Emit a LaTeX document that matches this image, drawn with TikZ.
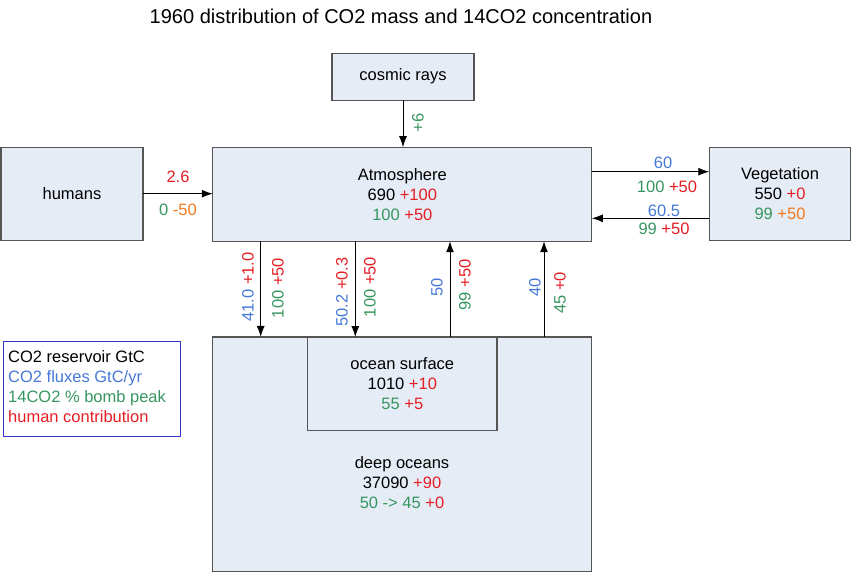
\documentclass[tikz,border=0pt]{standalone}
\usepackage{fontspec}
\setmainfont{Liberation Sans}
\usetikzlibrary{arrows.meta,calc}
\definecolor{cblue}{RGB}{70,120,215}
\definecolor{cgreen}{RGB}{55,150,95}
\definecolor{cred}{RGB}{228,30,35}
\definecolor{corange}{RGB}{240,120,30}
\definecolor{boxfill}{RGB}{230,236,246}
\definecolor{boxline}{RGB}{85,85,85}
\definecolor{legblue}{RGB}{50,50,200}
\begin{document}
\begin{tikzpicture}[x=1pt,y=-1pt,
  box/.style={draw=boxline,fill=boxfill,line width=1.3pt,rectangle,inner sep=0pt,outer sep=0pt,align=center},
  txt/.style={font=\fontsize{16.5}{20}\selectfont,align=center},
  arr/.style={-{Latex[length=11pt,width=8pt]},line width=1pt,black},
  lbl/.style={font=\fontsize{16.5}{20}\selectfont,inner sep=0pt}]
\useasboundingbox (0,0) rectangle (852,573);
% title
\node[font=\fontsize{20}{24}\selectfont,inner sep=0pt] (title) at (401,16) {1960 distribution of CO2 mass and 14CO2 concentration};
% boxes
\node[box,txt,minimum width=142pt,minimum height=47pt] (cos) at (403,76.7) {cosmic rays};
\node[box,txt,minimum width=142pt,minimum height=93pt] (hum) at (72,193.7) {humans};
\node[box,txt,minimum width=379pt,minimum height=94pt] (atm) at (402.3,194.2) {Atmosphere\\690 \textcolor{cred}{+100}\\\textcolor{cgreen}{100} \textcolor{cred}{+50}};
\node[box,txt,minimum width=141.5pt,minimum height=93.5pt] (veg) at (780,194) {Vegetation\\550 \textcolor{cred}{+0}\\\textcolor{cgreen}{99} \textcolor{corange}{+50}};
\node[box,minimum width=379pt,minimum height=234.7pt] (deep) at (402.3,454.3) {};
\node[box,txt,minimum width=189.3pt,minimum height=93.7pt] (surf) at (402.3,383.9) {ocean surface\\1010 \textcolor{cred}{+10}\\\textcolor{cgreen}{55} \textcolor{cred}{+5}};
\node[txt,inner sep=0pt] (deept) at (402,483) {deep oceans\\37090 \textcolor{cred}{+90}\\\textcolor{cgreen}{50 -> 45} \textcolor{cred}{+0}};
% legend
\node[draw=legblue,line width=1pt,minimum width=177pt,minimum height=95pt,inner sep=0pt,outer sep=0pt] (leg) at (91.5,388.7) {};
\node[txt,align=left,anchor=west,inner sep=0pt] (legt) at (8,387) {CO2 reservoir GtC\\\textcolor{cblue}{CO2 fluxes GtC/yr}\\\textcolor{cgreen}{14CO2 \% bomb peak}\\\textcolor{cred}{human contribution}};
% coordinates
\coordinate (y1) at (0,171.7);
\coordinate (y2) at (0,218.3);
\coordinate (v1) at (260.7,0);
\coordinate (v2) at (355.3,0);
\coordinate (v3) at (450,0);
\coordinate (v4) at (544,0);
% arrows
\draw[arr] (cos.south) -- (cos.south |- atm.north);
\draw[arr] (hum.east) -- (hum.east -| atm.west);
\draw[arr] (atm.east |- y1) -- (veg.west |- y1);
\draw[arr] (veg.west |- y2) -- (atm.east |- y2);
\draw[arr] (atm.south -| v1) -- (deep.north -| v1);
\draw[arr] (atm.south -| v2) -- (surf.north -| v2);
\draw[arr] (surf.north -| v3) -- (atm.south -| v3);
\draw[arr] (deep.north -| v4) -- (atm.south -| v4);
% labels
\node[lbl,text=cred] (l1) at (178,177) {2.6};
\node[lbl] (l2) at (178,210) {\textcolor{cgreen}{0} \textcolor{corange}{-50}};
\node[lbl,text=cblue] (l3) at (663,162.5) {60};
\node[lbl] (l4) at (667,187) {\textcolor{cgreen}{100} \textcolor{cred}{+50}};
\node[lbl,text=cblue] (l5) at (664,210.5) {60.5};
\node[lbl] (l6) at (664,228.5) {\textcolor{cgreen}{99} \textcolor{cred}{+50}};
\node[lbl,rotate=90,text=cgreen] (l7) at (418,123) {+6};
\node[lbl,rotate=90] (l8) at (248,287) {\textcolor{cblue}{41.0} \textcolor{cred}{+1.0}};
\node[lbl,rotate=90] (l9) at (278,288) {\textcolor{cgreen}{100} \textcolor{cred}{+50}};
\node[lbl,rotate=90] (l10) at (342,292) {\textcolor{cblue}{50.2} \textcolor{cred}{+0.3}};
\node[lbl,rotate=90] (l11) at (370,287) {\textcolor{cgreen}{100} \textcolor{cred}{+50}};
\node[lbl,rotate=90,text=cblue] (l12) at (437,287) {50};
\node[lbl,rotate=90] (l13) at (465,285) {\textcolor{cgreen}{99} \textcolor{cred}{+50}};
\node[lbl,rotate=90,text=cblue] (l14) at (535,287) {40};
\node[lbl,rotate=90] (l15) at (560,293) {\textcolor{cgreen}{45} \textcolor{cred}{+0}};
\end{tikzpicture}
\end{document}
